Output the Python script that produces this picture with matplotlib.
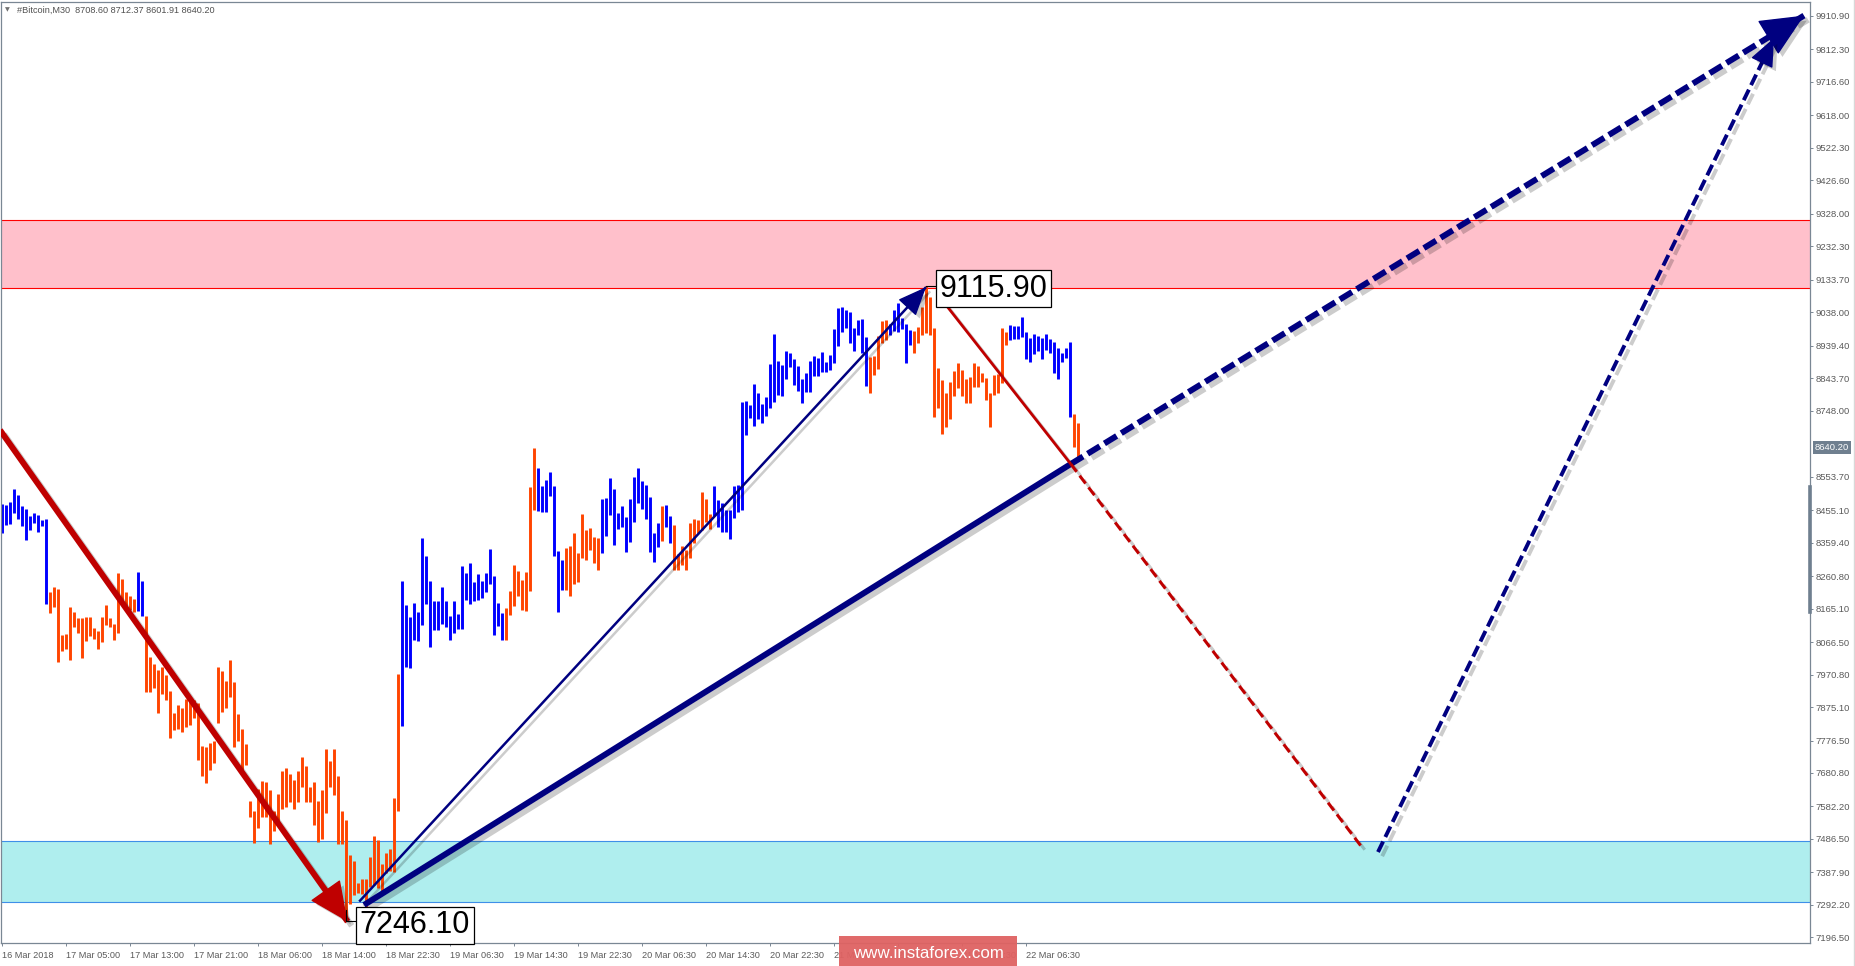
import numpy as np
import matplotlib
matplotlib.use("Agg")
import matplotlib.pyplot as plt
import matplotlib.patheffects as pe
import matplotlib.transforms as mtransforms
from matplotlib.patches import Rectangle

plt.rcParams['font.family'] = ['Liberation Sans', 'DejaVu Sans']

# Bitcoin M30 bars (one value per bar)
bar_high = [
    8473, 8471, 8479, 8517, 8501, 8467, 8458, 8438, 8448, 8441,
    8426, 8429, 8215, 8228, 8223, 8088, 8091, 8171, 8156, 8137,
    8137, 8140, 8141, 8108, 8099, 8141, 8176, 8136, 8120, 8269,
    8252, 8214, 8202, 8193, 8273, 8246, 8143, 8022, 8003, 7984,
    7992, 7969, 7923, 7859, 7881, 7871, 7898, 7906, 7896, 7886,
    7760, 7758, 7768, 7776, 7992, 7982, 7953, 8014, 7949, 7855,
    7811, 7766, 7599, 7570, 7634, 7657, 7654, 7631, 7570, 7619,
    7687, 7695, 7678, 7660, 7686, 7728, 7701, 7639, 7654, 7598,
    7631, 7751, 7716, 7751, 7672, 7570, 7542, 7439, 7422, 7358,
    7368, 7370, 7434, 7494, 7483, 7413, 7444, 7458, 7606, 7972,
    8246, 8177, 8141, 8182, 8155, 8373, 8321, 8245, 8188, 8186,
    8230, 8186, 8144, 8188, 8149, 8291, 8270, 8299, 8243, 8266,
    8246, 8271, 8342, 8262, 8183, 8153, 8168, 8217, 8294, 8276,
    8249, 8273, 8524, 8639, 8579, 8527, 8544, 8567, 8527, 8335,
    8308, 8345, 8350, 8388, 8330, 8444, 8398, 8403, 8377, 8374,
    8488, 8490, 8550, 8516, 8447, 8467, 8435, 8488, 8553, 8579,
    8541, 8529, 8495, 8387, 8418, 8467, 8470, 8438, 8411, 8326,
    8350, 8338, 8418, 8429, 8426, 8510, 8488, 8444, 8526, 8485,
    8477, 8455, 8457, 8527, 8529, 8774, 8777, 8765, 8827, 8799,
    8768, 8789, 8886, 8974, 8893, 8882, 8924, 8917, 8899, 8879,
    8841, 8858, 8894, 8908, 8902, 8922, 8892, 8912, 8988, 9050,
    9053, 9045, 9038, 8993, 9015, 9017, 8966, 8907, 8909, 8968,
    9012, 9015, 9003, 9045, 9066, 9020, 9002, 8986, 8983, 8996,
    9055, 9115.9, 9082, 8991, 8873, 8838, 8801, 8832, 8865, 8888,
    8868, 8840, 8848, 8890, 8880, 8858, 8845, 8799, 8853, 8855,
    8991, 8981, 9000, 8998, 8999, 9023, 8981, 8963, 8973, 8969,
    8961, 8974, 8959, 8950, 8933, 8919, 8932, 8951, 8737, 8712.37,
]
bar_low = [
    8389, 8411, 8414, 8448, 8429, 8408, 8367, 8397, 8418, 8391,
    8408, 8179, 8153, 8171, 8008, 8040, 8046, 8014, 8112, 8092,
    8020, 8070, 8085, 8076, 8046, 8067, 8116, 8112, 8073, 8094,
    8183, 8167, 8161, 8156, 8158, 8143, 7920, 7920, 7930, 7858,
    7913, 7896, 7783, 7808, 7809, 7803, 7815, 7822, 7842, 7719,
    7673, 7650, 7690, 7709, 7827, 7861, 7873, 7904, 7756, 7776,
    7690, 7704, 7552, 7476, 7518, 7552, 7552, 7471, 7511, 7540,
    7576, 7582, 7596, 7576, 7595, 7640, 7596, 7596, 7527, 7478,
    7487, 7562, 7640, 7615, 7471, 7471, 7246.1, 7295, 7321, 7326,
    7324, 7265, 7346, 7351, 7341, 7329, 7385, 7391, 7390, 7569,
    7820, 7994, 7989, 8073, 8069, 8117, 8179, 8053, 8102, 8102,
    8120, 8112, 8073, 8094, 8104, 8105, 8190, 8180, 8188, 8190,
    8195, 8213, 8238, 8087, 8114, 8073, 8073, 8146, 8173, 8202,
    8162, 8158, 8217, 8456, 8454, 8450, 8450, 8497, 8321, 8155,
    8220, 8220, 8203, 8238, 8243, 8315, 8308, 8338, 8299, 8279,
    8330, 8379, 8441, 8352, 8401, 8404, 8333, 8362, 8420, 8477,
    8458, 8429, 8333, 8303, 8348, 8365, 8404, 8359, 8279, 8279,
    8294, 8279, 8315, 8357, 8387, 8397, 8421, 8399, 8438, 8404,
    8392, 8390, 8371, 8431, 8449, 8456, 8675, 8726, 8704, 8724,
    8713, 8732, 8755, 8774, 8793, 8791, 8840, 8876, 8825, 8807,
    8772, 8804, 8804, 8851, 8850, 8863, 8863, 8868, 8890, 8940,
    8979, 8991, 8947, 8924, 8971, 8919, 8821, 8799, 8854, 8870,
    8948, 8956, 8971, 8984, 8981, 8988, 8890, 8942, 8919, 8947,
    8971, 8978, 8971, 8730, 8755, 8679, 8701, 8725, 8792, 8814,
    8791, 8770, 8770, 8819, 8819, 8834, 8780, 8701, 8794, 8799,
    8829, 8942, 8956, 8958, 8958, 8966, 8900, 8892, 8914, 8924,
    8900, 8927, 8919, 8858, 8840, 8892, 8902, 8730, 8640, 8601.91,
]
# u = bullish bar (blue), d = bearish bar (orange)
bar_dir = (
    "uuuuuuuuuuuudddddddddddddddddd"
    "dddduudddddddddddddddddddddddd"
    "dddddddddddddddddddddddddddddd"
    "dddddddddduuuuuuuuuuuuuuuuuuuu"
    "uuuuuuddddddddmuuuuuuddddddddd".replace("m", "u")
    + "uuuuuuuuuuuuuuuduudddddddddduu"
    "uuuuuuuuuuuuuuuuuuuuuuuuuuuuuu"
    "uuuuuuudddddeuuuuudddddddddddd".replace("e", "u")
    + "dddddddddddduuuuuuuuuuuuuuuudd"
)

time_labels = ["16 Mar 2018", "17 Mar 05:00", "17 Mar 13:00", "17 Mar 21:00",
               "18 Mar 06:00", "18 Mar 14:00", "18 Mar 22:30", "19 Mar 06:30",
               "19 Mar 14:30", "19 Mar 22:30", "20 Mar 06:30", "20 Mar 14:30",
               "20 Mar 22:30", "21 Mar 06:30", "21 Mar 14:30", "21 Mar 22:30",
               "22 Mar 06:30"]
time_label_bars = [0, 16, 32, 48, 64, 80, 96, 112, 128, 144, 160, 176, 192, 208, 224, 240, 256]

price_ticks = [9910.90, 9812.30, 9716.60, 9618.00, 9522.30, 9426.60, 9328.00, 9232.30,
               9133.70, 9038.00, 8939.40, 8843.70, 8748.00, 8553.70, 8455.10, 8359.40,
               8260.80, 8165.10, 8066.50, 7970.80, 7875.10, 7776.50, 7680.80, 7582.20,
               7486.50, 7387.90, 7292.20, 7196.50]

# zones
resist_zone = (9110, 9310)
support_zone = (7300, 7480)

# wave marks (bar index, price)
wave_down = [(-0.5, 8691), (86.4, 7243)]
wave_up_thin = [(89.3, 7302), (231, 9112)]
wave_up_thick = [(90.5, 7292), (267.2, 8591)]
wave_up_target = [(267.2, 8591), (450.5, 9912)]
wave_corr = [(234.5, 9082), (267.2, 8591)]
wave_corr_fcst = [(267.2, 8591), (340.3, 7457)]
wave_up_fcst = [(344, 7448), (443, 9846)]

last_ohlc = [8708.60, 8712.37, 8601.91, 8640.20]

# ---------------------------------------------------------------------
W, H = 1855, 966
fig = plt.figure(figsize=(W / 100, H / 100), dpi=100)
fig.patch.set_facecolor("white")
ax = fig.add_axes([1 / W, (H - 943) / H, 1809 / W, 941 / H])
ax.set_xlim(-0.25, 452)
ax.set_ylim(7180, 9952)

# zones
ax.axhspan(*resist_zone, facecolor="#FFC0CB", edgecolor="none", zorder=0)
for v in resist_zone:
    ax.axhline(v, color="#FF0000", lw=0.8, zorder=0.5)
ax.axhspan(*support_zone, facecolor="#AFEEEE", edgecolor="none", zorder=0)
for v in support_zone:
    ax.axhline(v, color="#3F8FE8", lw=0.8, zorder=0.5)

# bars
idx = np.arange(len(bar_high))
cols = ["#0000FF" if c == "u" else "#FF4500" for c in bar_dir[:len(idx)]]
ax.vlines(idx, bar_low, bar_high, colors=cols, linewidth=2.1, zorder=2)

shadow = [pe.SimpleLineShadow(offset=(3, -3), shadow_color="k", alpha=0.2), pe.Normal()]
pshadow = [pe.SimplePatchShadow(offset=(3, -3), shadow_rgbFace="k", alpha=0.2), pe.Normal()]


def draw_head(p0, p1, color, scale, hl, hw):
    # short arrow just for the head at p1
    x0 = p1[0] - (p1[0] - p0[0]) * 0.02
    y0 = p1[1] - (p1[1] - p0[1]) * 0.02
    a = ax.annotate("", xy=p1, xytext=(x0, y0),
                    arrowprops=dict(arrowstyle="-|>,head_length=%g,head_width=%g" % (hl, hw),
                                    color=color, lw=1, shrinkA=0, shrinkB=0,
                                    mutation_scale=scale), zorder=5)
    a.arrow_patch.set_path_effects(pshadow)


def seg(points, color, lw, dashes=None):
    xs = [p[0] for p in points]
    ys = [p[1] for p in points]
    ln, = ax.plot(xs, ys, color=color, lw=lw, zorder=4, solid_capstyle="butt",
                  dash_capstyle="butt", path_effects=shadow)
    if dashes:
        ln.set_dashes(dashes)
    return ln


# big red impulse down
seg(wave_down, "#BF0000", 4.3)
draw_head(wave_down[0], wave_down[1], "#BF0000", 20, 1.3, 0.6)

# thin navy up to the peak
seg(wave_up_thin, "#000080", 1.8)
draw_head(wave_up_thin[0], wave_up_thin[1], "#000080", 14, 1.3, 0.55)

# thick navy wave + forecast
seg(wave_up_thick, "#000080", 4.3)
seg(wave_up_target, "#000080", 4.3, dashes=(2.4, 0.9))
draw_head(wave_up_target[0], wave_up_target[1], "#000080", 22, 1.3, 0.6)

# red correction + forecast
seg(wave_corr, "#BF0000", 2.0)
seg(wave_corr_fcst, "#BF0000", 2.2, dashes=(3.2, 1.6))

# steep navy forecast
seg(wave_up_fcst, "#000080", 2.8, dashes=(3.0, 1.3))
draw_head(wave_up_fcst[0], wave_up_fcst[1], "#000080", 14, 1.3, 0.55)

# price labels at extremes
hi_i = int(np.argmax(bar_high))
lo_i = int(np.argmin(bar_low))
ax.plot([hi_i, hi_i + 2.7], [bar_high[hi_i], bar_high[hi_i]], color="k", lw=0.8, zorder=5)
ax.text(hi_i + 3.4, bar_high[hi_i] - 8, "%.2f" % bar_high[hi_i], fontsize=22, ha="left", va="center",
        zorder=6, bbox=dict(boxstyle="square,pad=0.12", fc="white", ec="k", lw=0.9))
ax.plot([lo_i, lo_i, lo_i + 2.7], [bar_low[lo_i] + 30, bar_low[lo_i], bar_low[lo_i]],
        color="k", lw=0.8, zorder=5)
ax.text(lo_i + 3.4, bar_low[lo_i] - 14, "%.2f" % bar_low[lo_i], fontsize=22, ha="left", va="center",
        zorder=6, bbox=dict(boxstyle="square,pad=0.12", fc="white", ec="k", lw=0.9))

# axes styling
for s in ax.spines.values():
    s.set_color("#7a8794")
    s.set_linewidth(0.9)
ax.yaxis.tick_right()
ax.set_yticks(price_ticks)
ax.set_yticklabels(["%.2f" % v for v in price_ticks])
ax.tick_params(axis="y", length=2.5, width=0.7, color="#7a8794", pad=1.5,
               labelsize=6.8, labelcolor="#5a5a5a")
ax.set_xticks(time_label_bars)
ax.set_xticklabels(time_labels)
ax.tick_params(axis="x", length=2.5, width=0.7, color="#7a8794", pad=3,
               labelsize=6.6, labelcolor="#5a5a5a")
for lbl in ax.get_xticklabels():
    lbl.set_ha("left")

# current price tag on the scale
trans = mtransforms.blended_transform_factory(ax.transAxes, ax.transData)
ax.annotate("%.2f" % last_ohlc[3], xy=(1, last_ohlc[3]), xycoords=trans, xytext=(3.3, 0),
            textcoords="offset points", ha="left", va="center", fontsize=6.8, color="white",
            annotation_clip=False,
            bbox=dict(boxstyle="square,pad=0.2", fc="#6f7f8f", ec="none"))
ax.plot([1, 1], [8155, 8523], transform=trans, color="#6f7f8f", lw=2.6, clip_on=False, zorder=7)

# header
fig.text(5 / W, 1 - 10 / H, "\u25bc", fontsize=4.5, color="#707070", va="center",
         family=["DejaVu Sans"])
fig.text(17 / W, 1 - 10 / H, "#Bitcoin,M30  " + " ".join("%.2f" % v for v in last_ohlc),
         fontsize=6.6, color="#505050", va="center")

# right border + watermark
fig.add_artist(plt.Line2D([1853.5 / W, 1853.5 / W], [0, 1], color="#d8d8d8", lw=1))
fig.add_artist(Rectangle((839 / W, 0), 178 / W, 30 / H, facecolor="#df6262",
                         edgecolor="none", transform=fig.transFigure, alpha=0.95))
fig.text(928 / W, 13 / H, "www.instaforex.com", color="white", fontsize=12.2,
         ha="center", va="center")

fig.savefig("out.png", dpi=100)
